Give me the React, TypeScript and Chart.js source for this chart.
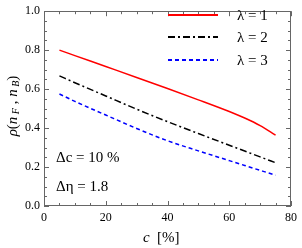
import React, { useEffect, useRef } from "react";
import { Chart, registerables } from "chart.js";

Chart.register(...registerables);

const cValues = [5, 10, 20, 30, 40, 50, 60, 65, 70, 75];
const lambda1 = [0.8, 0.772, 0.716, 0.66, 0.603, 0.545, 0.485, 0.452, 0.413, 0.364];
const lambda2 = [0.668, 0.633, 0.565, 0.497, 0.433, 0.372, 0.312, 0.282, 0.252, 0.222];
const lambda3 = [0.575, 0.537, 0.467, 0.398, 0.335, 0.283, 0.233, 0.208, 0.183, 0.158];
const seriesLabels = ["λ = 1", "λ = 2", "λ = 3"];
const annotations = ["Δc = 10 %", "Δη = 1.8"];
const xTicks = [0, 20, 40, 60, 80];
const yTicks = [0, 0.2, 0.4, 0.6, 0.8, 1.0];

const colors = ["#ff0000", "#000000", "#0000ff"];
const dashes = [[], [7, 3, 2, 3], [4, 3]];
const SERIF = "'Liberation Serif', 'DejaVu Serif', serif";

const framePlugin = {
  id: "frame",
  afterDraw(chart: any) {
    const { ctx, chartArea: a, scales } = chart;
    const xs = scales.x;
    const ys = scales.y;
    ctx.save();
    ctx.strokeStyle = "#666666";
    ctx.lineWidth = 1;
    ctx.strokeRect(Math.round(a.left) + 0.5, Math.round(a.top) + 0.5, Math.round(a.right - a.left) - 1, Math.round(a.bottom - a.top) - 1);
    for (let v = 0; v <= 80; v += 5) {
      const px = Math.round(xs.getPixelForValue(v)) + 0.5;
      const len = v % 20 === 0 ? 5 : 3;
      ctx.beginPath();
      ctx.moveTo(px, a.bottom);
      ctx.lineTo(px, a.bottom - len);
      ctx.moveTo(px, a.top);
      ctx.lineTo(px, a.top + len);
      ctx.stroke();
    }
    for (let i = 0; i <= 20; i++) {
      const v = i * 0.05;
      const py = Math.round(ys.getPixelForValue(v)) + 0.5;
      const len = i % 4 === 0 ? 5 : 3;
      ctx.beginPath();
      ctx.moveTo(a.left, py);
      ctx.lineTo(a.left + len, py);
      ctx.moveTo(a.right, py);
      ctx.lineTo(a.right - len, py);
      ctx.stroke();
    }

    // legend
    const rowsY = [15, 37, 60];
    for (let i = 0; i < 3; i++) {
      ctx.beginPath();
      ctx.strokeStyle = colors[i];
      ctx.lineWidth = 2;
      ctx.setLineDash(dashes[i]);
      ctx.moveTo(168, rowsY[i]);
      ctx.lineTo(218, rowsY[i]);
      ctx.stroke();
      ctx.setLineDash([]);
      ctx.fillStyle = "#000";
      ctx.font = `15px ${SERIF}`;
      ctx.textBaseline = "middle";
      ctx.textAlign = "left";
      ctx.fillText(seriesLabels[i], 237, rowsY[i] + 1);
    }

    // annotations
    ctx.fillStyle = "#000";
    ctx.font = `15px ${SERIF}`;
    ctx.textBaseline = "middle";
    ctx.fillText(annotations[0], 56, 158);
    ctx.fillText(annotations[1], 56, 187);

    // x title
    ctx.font = `italic 15px ${SERIF}`;
    ctx.textAlign = "left";
    ctx.fillText("c", 143, 238);
    ctx.font = `15px ${SERIF}`;
    ctx.fillText("[%]", 157, 238);

    // y title
    ctx.save();
    ctx.translate(13, 106);
    ctx.rotate(-Math.PI / 2);
    ctx.textBaseline = "middle";
    const parts: [string, string, number][] = [
      ["ρ", "italic 15px", 0],
      ["(", "15px", 0],
      ["n", "italic 15px", 0],
      [" F", "italic 10px", 3],
      [" , ", "15px", 0],
      ["n", "italic 15px", 0],
      [" B", "italic 10px", 3],
      [")", "15px", 0],
    ];
    let total = 0;
    for (const [t, f] of parts) {
      ctx.font = `${f} ${SERIF}`;
      total += ctx.measureText(t).width;
    }
    let x = -total / 2;
    for (const [t, f, dy] of parts) {
      ctx.font = `${f} ${SERIF}`;
      ctx.fillText(t, x, dy);
      x += ctx.measureText(t).width;
    }
    ctx.restore();
    ctx.restore();
  },
};

export default function App() {
  const ref = useRef<HTMLCanvasElement>(null);
  useEffect(() => {
    if (!ref.current) return;
    const datasets = [lambda1, lambda2, lambda3].map((vals, i) => ({
      label: seriesLabels[i],
      data: cValues.map((c, j) => ({ x: c, y: vals[j] })),
      borderColor: colors[i],
      borderWidth: 1.5,
      borderDash: dashes[i],
      pointRadius: 0,
      fill: false,
      cubicInterpolationMode: "monotone" as const,
    }));
    const chart = new Chart(ref.current, {
      type: "line",
      data: { datasets },
      options: {
        animation: false,
        responsive: false,
        maintainAspectRatio: false,
        layout: { padding: { top: 6, right: 7, left: 0, bottom: 0 } },
        plugins: { legend: { display: false }, tooltip: { enabled: false }, title: { display: false } },
        scales: {
          x: {
            type: "linear",
            min: 0,
            max: 80,
            afterBuildTicks: (s: any) => {
              s.ticks = xTicks.map((v) => ({ value: v }));
            },
            afterFit: (s: any) => {
              s.height = 42;
            },
            grid: { display: false, drawTicks: false },
            border: { display: false },
            ticks: {
              padding: 5,
              color: "#000",
              font: { family: SERIF, size: 12 },
              maxRotation: 0,
              callback: (v: any) => String(v),
            },
          },
          y: {
            type: "linear",
            min: 0,
            max: 1,
            afterBuildTicks: (s: any) => {
              s.ticks = yTicks.map((v) => ({ value: v }));
            },
            afterFit: (s: any) => {
              s.width = 44;
            },
            grid: { display: false, drawTicks: false },
            border: { display: false },
            ticks: {
              padding: 4,
              color: "#000",
              font: { family: SERIF, size: 12 },
              callback: (v: any) => Number(v).toFixed(1),
            },
          },
        },
      },
      plugins: [framePlugin],
    });
    return () => chart.destroy();
  }, []);
  return (
    <div style={{ position: "fixed", left: 0, top: 0, width: 302, height: 248, background: "#fff" }}>
      <canvas ref={ref} width={302} height={248} style={{ width: 302, height: 248 }} />
    </div>
  );
}
